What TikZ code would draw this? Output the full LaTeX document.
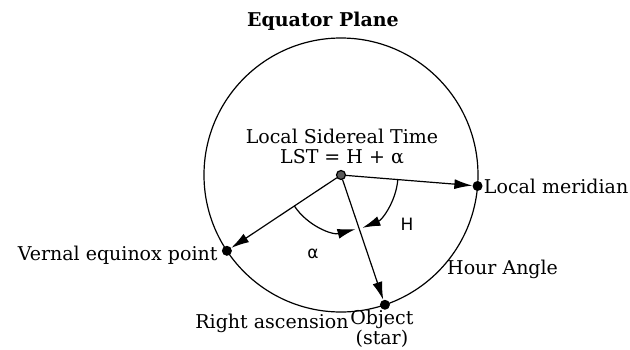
\documentclass[tikz,border=0pt]{standalone}
\usepackage{fontspec}
\setmainfont{DejaVu Serif}
\newfontfamily\lblsans{DejaVu Sans}
\usetikzlibrary{arrows.meta}

\tikzset{
  dot/.style={circle,fill=black,inner sep=0pt,minimum size=10pt},
  vec/.style={-{Latex[length=18pt,width=10pt]},line width=1.2pt},
  txt/.style={font=\fontsize{19}{20}\selectfont,inner sep=1pt},
  sym/.style={font=\lblsans\fontsize{17}{19}\selectfont,inner sep=0pt}
}

\begin{document}
\begin{tikzpicture}[x=1pt,y=1pt, line cap=round, line join=round]
  \useasboundingbox (-341,-174) rectangle (289,175);

  % equator circle
  \draw[line width=1.2pt] (0,0) circle (137);

  \node[txt,font=\bfseries\fontsize{19}{21}\selectfont] (title) at (-18,154) {Equator Plane};

  % points on the circle
  \node[dot] (vernal) at (213.6:137) {};
  \node[dot] (meridian) at (-4.6:137) {};
  \node[dot] (star) at (-71.3:137) {};
  \node[circle,draw=black,fill=black!65,line width=1.2pt,inner sep=0pt,minimum size=9pt] (o) at (0,0) {};

  % vectors
  \draw[vec] (o) -- (vernal);
  \draw[vec] (o) -- (meridian);
  \draw[vec] (o) -- (star);

  % angles
  \draw[vec] (213.6:56) arc[start angle=213.6,end angle=285,radius=56];
  \draw[vec] (-4.6:57) arc[start angle=-4.6,end angle=-68,radius=57];
  \node[sym] (H) at (66,-49) {H};
  \node[sym] (alpha) at (-28,-79) {α};

  % labels
  \node[txt,align=center] (lst) at (1,28) {Local Sidereal Time\\LST = H + α};
  \node[txt,anchor=west] (lm) at ([xshift=0pt]meridian.east) {Local meridian};
  \node[txt,anchor=east] (ve) at ([xshift=-3pt,yshift=-4pt]vernal.west) {Vernal equinox point};
  \node[txt,anchor=west] (ha) at (105,-94) {Hour Angle};
  \node[txt] (ra) at (-69,-148) {Right ascension};
  \node[txt,align=center,anchor=north,inner sep=0pt] (obj) at ([xshift=-3pt,yshift=0pt]star.south) {Object\\(star)};
\end{tikzpicture}
\end{document}
